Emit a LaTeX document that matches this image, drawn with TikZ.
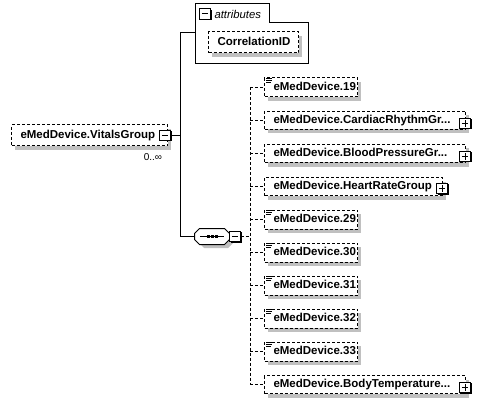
\documentclass[tikz,border=0pt]{standalone}
\usepackage{fontspec}
\setmainfont{Liberation Sans}
\definecolor{shgray}{RGB}{192,192,192}
\newcommand\eqicon[1]{\draw[line width=0.8pt] ([shift={(2pt,-1pt)}]#1.north west) -- ++(6pt,0pt) ([shift={(2pt,-3pt)}]#1.north west) -- ++(6pt,0pt) ([shift={(2pt,-5pt)}]#1.north west) -- ++(5pt,0pt);}
% name, x(west), y(center), width, height, text width, text
\newcommand\dnode[7]{%
  \fill[shgray] (#2+4,#3-#5/2+4) rectangle (#2+#4+4,#3+#5/2+4);
  \node[dbox=#6,minimum height=#5pt] (#1) at (#2,#3) {#7};}
\begin{document}
\begin{tikzpicture}[x=1pt,y=-1pt,line width=1pt,
  dbox/.style={draw,dash pattern=on 3pt off 2pt,fill=white,anchor=west,minimum height=19pt,inner ysep=0pt,inner xsep=9pt,align=left,font=\bfseries\fontsize{11.5}{13}\selectfont,text height=8pt,text depth=2.5pt,text width=#1},
  pmbox/.style={draw,fill=white,minimum size=10.5pt,inner sep=0pt,line width=1pt},
  minusbox/.style={pmbox,path picture={\draw[line width=1pt] ([xshift=2pt]path picture bounding box.west) -- ([xshift=-2pt]path picture bounding box.east);}},
  plusbox/.style={pmbox,path picture={\draw[line width=1pt] ([xshift=2pt]path picture bounding box.west) -- ([xshift=-2pt]path picture bounding box.east) ([yshift=-2pt]path picture bounding box.north) -- ([yshift=2pt]path picture bounding box.south);}},
  conn/.style={draw,line width=1pt},
  dconn/.style={conn,dash pattern=on 3pt off 2pt}
]
\useasboundingbox (0,0) rectangle (480,404);
\fill[white] (0,0) rectangle (480,404);

% main element
\dnode{vg}{11}{135.5}{156}{21}{138pt}{eMedDevice.VitalsGroup}
\fill[black] (161,131) rectangle (171.5,141.5);
\node[minusbox] (vgpm) at (165,135.5) {};
\node[font=\fontsize{10}{12}\selectfont,inner sep=0pt] (occ) at (153,157.5) {0..∞};
\coordinate (j1) at (180,135.5);
\coordinate (jtop) at (180,33);
\coordinate (jbot) at (180,236.5);
\draw[conn] (vgpm) -- (j1);
\draw[conn] (jtop) -- (jbot);

% attributes
\node[minimum width=112pt,minimum height=40pt,inner sep=0pt,anchor=north west] (attr) at (195,23) {};
\node[minimum width=73pt,minimum height=18pt,inner sep=0pt,anchor=south west] (attrtab) at (attr.north west) {};
\draw (attr.south west) -- (attrtab.north west) -- (attrtab.north east) -- (attrtab.south east) -- (attr.north east) -- (attr.south east) -- cycle;
\fill[black] (201,10) rectangle (211.5,20.5);
\node[minusbox] (attrpm) at (205,14) {};
\node[anchor=west,font=\itshape\fontsize{11.3}{13}\selectfont,inner sep=0pt] (attrlbl) at (214,14) {attributes};
\draw[conn] (jtop) -- (jtop -| attr.west);
\dnode{corr}{208}{42.5}{90}{21}{72pt}{CorrelationID}

% sequence compositor
\fill[shgray] (200+4,229+4) -- (224+4,229+4) -- (229+4,234+4) -- (229+4,239+4) -- (224+4,244+4) -- (200+4,244+4) -- (195+4,239+4) -- (195+4,234+4) -- cycle;
\node[minimum width=34pt,minimum height=15pt,inner sep=0pt] (seq) at (212,236.5) {};
\draw[fill=white] ([xshift=5pt]seq.north west) -- ([xshift=-5pt]seq.north east) -- ([yshift=-5pt]seq.north east) -- ([yshift=5pt]seq.south east) -- ([xshift=-5pt]seq.south east) -- ([xshift=5pt]seq.south west) -- ([yshift=5pt]seq.south west) -- ([yshift=-5pt]seq.north west) -- cycle;
\draw ([xshift=-12pt]seq.center) -- ([xshift=12pt]seq.center);
\fill ([shift={(-5.5pt,-1.5pt)}]seq.center) rectangle ++(3pt,3pt);
\fill ([shift={(-1.5pt,-1.5pt)}]seq.center) rectangle ++(3pt,3pt);
\fill ([shift={(2.5pt,-1.5pt)}]seq.center) rectangle ++(3pt,3pt);
\fill[black] (231,232) rectangle (241.5,242.5);
\node[minusbox] (seqpm) at (235,236.5) {};
\draw[conn] (jbot) -- (seq.west);

\coordinate (vtop) at (250,87.5);
\coordinate (vbot) at (250,384.5);
\coordinate (jseq) at (250,236.5);
\draw[dconn] (seqpm.east) -- (jseq);
\draw[dconn] (vtop) -- (vbot);

% children
\dnode{n19}{264}{87.5}{93}{19}{75pt}{eMedDevice.19}
\dnode{ncard}{264}{120.5}{201}{18}{183pt}{eMedDevice.CardiacRhythmGr...}
\dnode{nblood}{264}{153.5}{201}{18}{183pt}{eMedDevice.BloodPressureGr...}
\dnode{nheart}{264}{186.5}{178}{18}{160pt}{eMedDevice.HeartRateGroup}
\dnode{n29}{264}{219.5}{93}{19}{75pt}{eMedDevice.29}
\dnode{n30}{264}{252.5}{93}{19}{75pt}{eMedDevice.30}
\dnode{n31}{264}{285.5}{93}{19}{75pt}{eMedDevice.31}
\dnode{n32}{264}{318.5}{93}{19}{75pt}{eMedDevice.32}
\dnode{n33}{264}{351.5}{93}{19}{75pt}{eMedDevice.33}
\dnode{nbody}{264}{384.5}{201}{18}{183pt}{eMedDevice.BodyTemperature...}

\foreach \n in {n19,n29,n30,n31,n32,n33} {\eqicon{\n}}
\fill[black] (461,119) rectangle (471.5,129.5);
\node[plusbox] (ncardpm) at (465,123.5) {};
\fill[black] (461,152) rectangle (471.5,162.5);
\node[plusbox] (nbloodpm) at (465,156.5) {};
\fill[black] (438,184) rectangle (448.5,194.5);
\node[plusbox] (nheartpm) at (442,188.5) {};
\fill[black] (461,383) rectangle (471.5,393.5);
\node[plusbox] (nbodypm) at (465,387.5) {};

\foreach \n in {n19,ncard,nblood,nheart,n29,n30,n31,n32,n33,nbody} {\draw[dconn] (\n -| vtop) -- (\n.west);}
\end{tikzpicture}
\end{document}
